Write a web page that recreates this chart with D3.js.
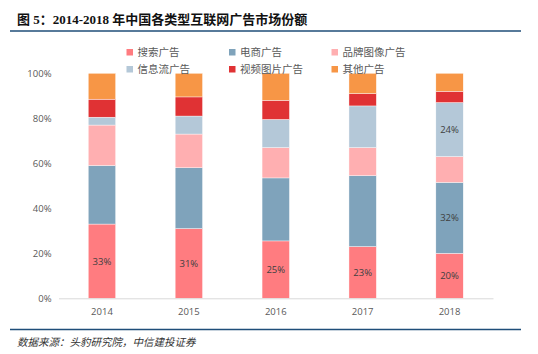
<!DOCTYPE html>
<html>
<head>
<meta charset="utf-8">
<script src="https://cdn.jsdelivr.net/npm/d3@7"></script>
<style>
  body { margin: 0; background: #fff; }
  svg { display: block; }
</style>
</head>
<body>
<script>
var years = ["2014", "2015", "2016", "2017", "2018"];
var seriesNames = ["搜索广告", "电商广告", "品牌图像广告", "信息流广告", "视频图片广告", "其他广告"];
var colors = ["#ff7c80", "#7fa3bb", "#ffafb1", "#b4c8d8", "#e03234", "#f79646"];

// share per year, in %
var search   = [33, 31, 25.5, 23, 20];
var ecom     = [26, 27, 28, 31.5, 31.5];
var brand    = [18, 15, 13.5, 12.5, 11.5];
var infoFlow = [3.5, 8, 12.5, 18.5, 24];
var video    = [8, 8.5, 8.5, 5.5, 5];
var other    = [11.5, 10.5, 12, 9, 8];

var yTicks = [0, 20, 40, 60, 80, 100];

// labels shown inside bars: [series index, year index, text]
var barLabels = [
  [0, 0, "33%"], [0, 1, "31%"], [0, 2, "25%"], [0, 3, "23%"], [0, 4, "20%"],
  [1, 4, "32%"], [3, 4, "24%"]
];

var width = 538, height = 354;
var cjk = "'Noto Sans CJK SC', 'Noto Sans', sans-serif";

var svg = d3.select("body").append("svg")
  .attr("width", width)
  .attr("height", height);

// title
svg.append("text")
  .attr("x", 17).attr("y", 24)
  .style("font-family", "'Liberation Serif', 'Noto Sans CJK SC', serif")
  .style("font-weight", "bold")
  .style("font-size", "13px")
  .style("fill", "#111")
  .text("图 5：2014-2018 年中国各类型互联网广告市场份额");

svg.append("line")
  .attr("x1", 10).attr("x2", 521)
  .attr("y1", 31).attr("y2", 31)
  .style("stroke", "#1f4e79").style("stroke-width", 1.6);

svg.append("line")
  .attr("x1", 10).attr("x2", 521)
  .attr("y1", 329.5).attr("y2", 329.5)
  .style("stroke", "#1f4e79").style("stroke-width", 1.6);

svg.append("text")
  .attr("x", 17).attr("y", 346)
  .style("font-family", cjk)
  .style("font-style", "italic")
  .style("font-size", "10.5px")
  .style("fill", "#333")
  .text("数据来源：头豹研究院，中信建投证券");

// data table
var table = years.map(function (y, i) {
  var row = { year: y };
  [search, ecom, brand, infoFlow, video, other].forEach(function (arr, k) {
    row[seriesNames[k]] = arr[i];
  });
  return row;
});

var stack = d3.stack().keys(seriesNames)(table);

var x = d3.scaleBand()
  .domain(years)
  .range([58.5, 493])
  .paddingInner(0.685)
  .paddingOuter(0.3425);

var y = d3.scaleLinear()
  .domain([0, 100])
  .range([298.3, 73.3]);

var color = d3.scaleOrdinal().domain(seriesNames).range(colors);

// bars
svg.append("g")
  .selectAll("g")
  .data(stack)
  .join("g")
  .style("fill", function (d) { return color(d.key); })
  .selectAll("rect")
  .data(function (d) { return d; })
  .join("rect")
  .attr("x", function (d) { return x(d.data.year); })
  .attr("y", function (d) { return y(d[1]); })
  .attr("width", x.bandwidth())
  .attr("height", function (d) { return y(d[0]) - y(d[1]); })
  .style("stroke", "#fff")
  .style("stroke-width", 0.4);

// y axis
var yAxis = svg.append("g")
  .attr("transform", "translate(58.5,0)")
  .call(d3.axisLeft(y).tickValues(yTicks).tickSize(0).tickPadding(7)
    .tickFormat(function (d) { return d + "%"; }));
yAxis.select(".domain").remove();
yAxis.selectAll("text")
  .style("font-family", "'Open Sans', 'Noto Sans', sans-serif")
  .style("font-size", "9.5px")
  .style("fill", "#595959");

// x axis
var xAxis = svg.append("g")
  .attr("transform", "translate(0,298.3)")
  .call(d3.axisBottom(x).tickSize(0).tickPadding(10));
xAxis.select(".domain").style("stroke", "#d9d9d9").style("stroke-width", 1);
xAxis.selectAll("text")
  .style("font-family", "'Open Sans', 'Noto Sans', sans-serif")
  .style("font-size", "9.5px")
  .style("fill", "#595959");

// value labels
svg.append("g")
  .selectAll("text")
  .data(barLabels)
  .join("text")
  .attr("x", function (d) { return x(years[d[1]]) + x.bandwidth() / 2; })
  .attr("y", function (d) {
    var seg = stack[d[0]][d[1]];
    return (y(seg[0]) + y(seg[1])) / 2 + 3.5;
  })
  .attr("text-anchor", "middle")
  .style("font-family", "'Open Sans', 'Noto Sans', sans-serif")
  .style("font-size", "9.5px")
  .style("fill", "#404040")
  .text(function (d) { return d[2]; });

// legend
var legendX = [126.5, 229, 331.5];
var legendY = [52, 69];
var legend = svg.append("g")
  .selectAll("g")
  .data(seriesNames)
  .join("g")
  .attr("transform", function (d, i) {
    return "translate(" + legendX[i % 3] + "," + legendY[Math.floor(i / 3)] + ")";
  });

legend.append("rect")
  .attr("x", 0).attr("y", -3)
  .attr("width", 6.5).attr("height", 6.5)
  .style("fill", function (d) { return color(d); });

legend.append("text")
  .attr("x", 11).attr("y", 4)
  .style("font-family", cjk)
  .style("font-size", "10.5px")
  .style("fill", "#595959")
  .text(function (d) { return d; });
</script>
</body>
</html>
